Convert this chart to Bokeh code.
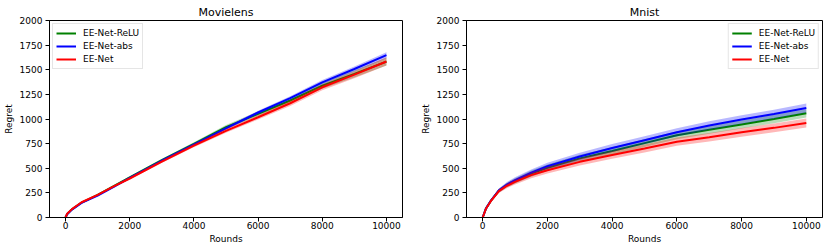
from bokeh.plotting import figure
from bokeh.layouts import row
from bokeh.models import Range1d, FixedTicker, Legend, LegendItem
from bokeh.embed import file_html
from bokeh.resources import INLINE

# ---------------- data ----------------
series_names = ["EE-Net-ReLU", "EE-Net-abs", "EE-Net"]
series_colors = ["green", "blue", "red"]

x_ticks = [0, 2000, 4000, 6000, 8000, 10000]
y_ticks = [0, 250, 500, 750, 1000, 1250, 1500, 1750, 2000]

# Movielens
ml_rounds = [0, 50, 200, 500, 1000, 1500, 2000, 3000, 4000, 5000, 6000, 7000, 8000, 9000, 10000]
ml_relu = [0, 35, 83, 152, 230, 318, 408, 582, 748, 918, 1052, 1188, 1338, 1458, 1582]
ml_abs = [0, 33, 80, 148, 222, 310, 402, 576, 740, 905, 1066, 1212, 1372, 1508, 1648]
ml_eenet = [0, 38, 85, 155, 230, 316, 396, 568, 730, 880, 1018, 1160, 1322, 1450, 1584]
ml_relu_std = [0, 2, 3, 5, 7, 9, 11, 14, 17, 20, 23, 27, 31, 36, 40]
ml_abs_std = [0, 2, 3, 4, 6, 8, 10, 12, 14, 16, 18, 20, 23, 26, 30]
ml_eenet_std = [0, 2, 3, 5, 7, 9, 11, 14, 17, 20, 23, 27, 31, 36, 42]

# Mnist
mn_rounds = [0, 100, 250, 500, 750, 1000, 1500, 2000, 3000, 4000, 5000, 6000, 7000, 8000, 9000, 10000]
mn_relu = [0, 90, 168, 272, 330, 372, 445, 505, 600, 675, 755, 835, 890, 945, 1000, 1058]
mn_abs = [0, 90, 170, 275, 335, 380, 455, 520, 620, 705, 785, 865, 935, 995, 1050, 1112]
mn_eenet = [0, 88, 165, 268, 322, 362, 430, 480, 565, 635, 700, 770, 815, 865, 910, 960]
mn_relu_std = [0, 8, 14, 20, 24, 27, 31, 34, 36, 38, 39, 40, 40, 41, 42, 42]
mn_abs_std = [0, 8, 14, 20, 25, 28, 33, 36, 38, 40, 41, 42, 43, 44, 45, 46]
mn_eenet_std = [0, 8, 14, 20, 24, 27, 31, 34, 36, 38, 40, 42, 43, 44, 45, 46]

FONT = "DejaVu Sans"


def make(title, xs, means, stds, left_border, right_border, loc):
    p = figure(width=415, height=248, output_backend="svg", toolbar_location=None,
               x_range=Range1d(-500, 10500), y_range=Range1d(0, 2000),
               min_border_left=left_border, min_border_right=right_border,
               min_border_top=20, min_border_bottom=31)
    p.title.text = title
    p.title.align = "center"
    p.title.text_font = FONT
    p.title.text_font_size = "11px"
    p.title.text_font_style = "normal"
    p.title.text_color = "black"
    p.title.standoff = 4
    p.title.offset = 0

    p.xgrid.visible = False
    p.ygrid.visible = False
    p.outline_line_color = "black"
    p.outline_line_width = 1
    p.background_fill_color = "white"
    p.border_fill_color = "white"

    for ax in (p.xaxis[0], p.yaxis[0]):
        ax.axis_line_color = "black"
        ax.major_tick_line_color = "black"
        ax.minor_tick_line_color = None
        ax.major_tick_out = 4
        ax.major_tick_in = 0
        ax.major_label_text_font = FONT
        ax.major_label_text_font_size = "9px"
        ax.major_label_text_color = "black"
        ax.axis_label_text_font = FONT
        ax.axis_label_text_font_size = "9px"
        ax.axis_label_text_font_style = "normal"
        ax.axis_label_text_color = "black"
    p.xaxis[0].major_label_standoff = 0
    p.xaxis[0].axis_label_standoff = 2
    p.yaxis[0].major_label_standoff = 3
    p.yaxis[0].axis_label_standoff = 3
    p.xaxis[0].ticker = FixedTicker(ticks=x_ticks)
    p.yaxis[0].ticker = FixedTicker(ticks=y_ticks)
    p.xaxis[0].axis_label = "Rounds"
    p.yaxis[0].axis_label = "Regret"

    items = []
    for name, color, m, s in zip(series_names, series_colors, means, stds):
        lo = [a - b for a, b in zip(m, s)]
        hi = [a + b for a, b in zip(m, s)]
        p.varea(x=xs, y1=lo, y2=hi, fill_color=color, fill_alpha=0.28)
        r = p.line(xs, m, line_color=color, line_width=2)
        items.append(LegendItem(label=name, renderers=[r]))

    legend = Legend(items=items, location=loc)
    legend.label_text_font = FONT
    legend.label_text_font_size = "9px"
    legend.label_text_color = "black"
    legend.glyph_width = 20
    legend.glyph_height = 12
    legend.label_height = 12
    legend.label_standoff = 7
    legend.spacing = 1
    legend.padding = 3
    legend.margin = 3
    legend.border_line_color = "#cccccc"
    legend.border_line_width = 1
    legend.background_fill_alpha = 0.8
    p.add_layout(legend)
    return p


p1 = make("Movielens", ml_rounds, [ml_relu, ml_abs, ml_eenet],
          [ml_relu_std, ml_abs_std, ml_eenet_std], 49, 13, "top_left")
p2 = make("Mnist", mn_rounds, [mn_relu, mn_abs, mn_eenet],
          [mn_relu_std, mn_abs_std, mn_eenet_std], 51, 8, "top_right")

layout = row(p1, p2)
open("out.html", "w").write(file_html(layout, INLINE))
